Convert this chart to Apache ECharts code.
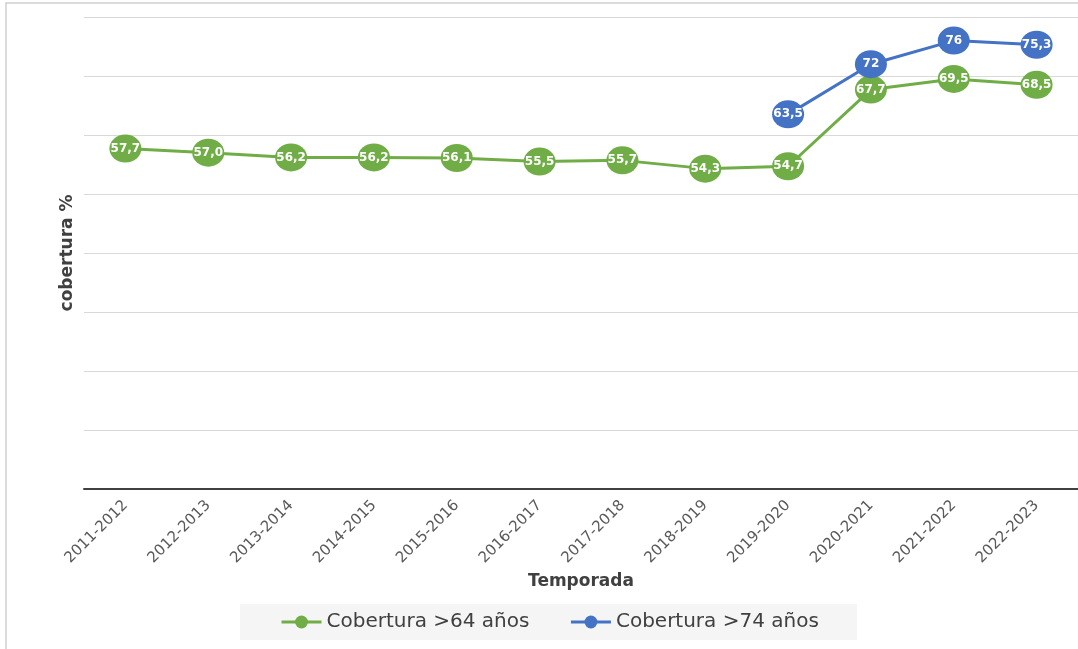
<!DOCTYPE html>
<html>
<head>
<meta charset="UTF-8">
<title>Cobertura</title>
<script src="https://cdn.jsdelivr.net/npm/echarts@6/dist/echarts.min.js"></script>
<style>
  html, body { margin: 0; padding: 0; background: #fff; }
  #chart { width: 1078px; height: 649px; }
</style>
</head>
<body>
<div id="chart"></div>
<script type="text/javascript">
var temporadas = ['2011-2012', '2012-2013', '2013-2014', '2014-2015', '2015-2016', '2016-2017',
  '2017-2018', '2018-2019', '2019-2020', '2020-2021', '2021-2022', '2022-2023'];
var cobertura64 = [57.7, 57.0, 56.2, 56.2, 56.1, 55.5, 55.7, 54.3, 54.7, 67.7, 69.5, 68.5];
var cobertura74 = [null, null, null, null, null, null, null, null, 63.5, 72, 76, 75.3];

var labelFont = {
  show: true,
  position: 'inside',
  color: '#fff',
  fontFamily: 'DejaVu Sans',
  fontWeight: 'bold',
  fontSize: 12
};

var chart = echarts.init(document.getElementById('chart'));
chart.setOption({
  animation: false,
  textStyle: { fontFamily: 'DejaVu Sans' },
  graphic: [{
    type: 'rect',
    shape: { x: 6, y: 3, width: 1200, height: 800 },
    style: { fill: 'none', stroke: '#d0d0d0', lineWidth: 1.5 },
    silent: true
  }],
  grid: { left: 84, right: -4, top: 17, bottom: 160 },
  legend: {
    left: 240,
    top: 604,
    padding: [8, 38, 8, 40],
    itemGap: 40,
    itemWidth: 40,
    itemHeight: 16,
    backgroundColor: '#f5f5f5',
    lineStyle: { width: 3 },
    textStyle: { fontSize: 20, color: '#404040', fontFamily: 'DejaVu Sans' },
    data: ['Cobertura >64 años', 'Cobertura >74 años']
  },
  xAxis: {
    type: 'category',
    data: temporadas,
    name: 'Temporada',
    nameLocation: 'middle',
    nameGap: 84,
    nameTextStyle: { fontSize: 17, fontWeight: 'bold', color: '#404040' },
    axisLine: { lineStyle: { color: '#404040', width: 2 } },
    axisTick: { show: false },
    axisLabel: { rotate: 45, fontSize: 15, color: '#595959', margin: 14 }
  },
  yAxis: {
    type: 'value',
    min: 0,
    max: 80,
    interval: 10,
    name: 'cobertura %',
    nameLocation: 'middle',
    nameGap: 8,
    nameTextStyle: { fontSize: 17, fontWeight: 'bold', color: '#404040' },
    axisLabel: { show: false },
    axisLine: { show: false },
    axisTick: { show: false },
    splitLine: { lineStyle: { color: '#d9d9d9', width: 1 } }
  },
  series: [{
    name: 'Cobertura >64 años',
    type: 'line',
    data: cobertura64,
    symbol: 'circle',
    symbolSize: [32, 28],
    itemStyle: { color: '#70ad47' },
    lineStyle: { color: '#70ad47', width: 3 },
    label: Object.assign({}, labelFont, {
      formatter: function (p) { return p.value.toFixed(1).replace('.', ','); }
    })
  }, {
    name: 'Cobertura >74 años',
    type: 'line',
    data: cobertura74,
    symbol: 'circle',
    symbolSize: [32, 28],
    itemStyle: { color: '#4472c4' },
    lineStyle: { color: '#4472c4', width: 3 },
    label: Object.assign({}, labelFont, {
      formatter: function (p) { return String(p.value).replace('.', ','); }
    })
  }]
});
</script>
</body>
</html>
